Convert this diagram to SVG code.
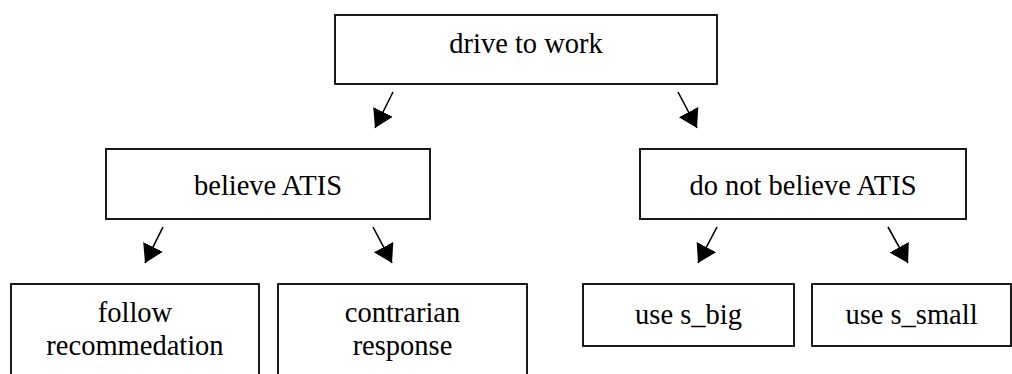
<svg xmlns="http://www.w3.org/2000/svg" width="1012" height="374" viewBox="0 0 1012 374">
<style>
.box{fill:#fff;stroke:#000;stroke-width:1.8}
.t{font-family:"Liberation Serif",Tinos,"Times New Roman",serif;font-size:28.5px;fill:#000;text-anchor:middle}
.c{stroke:#000;stroke-width:1.6;fill:none;marker-end:url(#ah)}
</style>
<defs>
<marker id="ah" markerUnits="userSpaceOnUse" markerWidth="24" markerHeight="24" refX="18" refY="11" orient="auto" viewBox="0 0 24 24">
<path d="M0,0 L18,11 L0,22 Z" fill="#000"/>
</marker>
</defs>
<rect width="1012" height="374" fill="#fff"/>
<g id="n-drive">
<rect class="box" x="335" y="15" width="382" height="69"/>
<text class="t" x="526" y="53">drive to work</text>
</g>
<g id="n-believe">
<rect class="box" x="106" y="149" width="324" height="70"/>
<text class="t" x="268" y="195">believe ATIS</text>
</g>
<g id="n-notbelieve">
<rect class="box" x="640" y="149" width="326" height="70"/>
<text class="t" x="803" y="195">do not believe ATIS</text>
</g>
<g id="n-follow">
<rect class="box" x="11" y="284" width="248" height="100"/>
<text class="t" x="135" y="322">follow</text>
<text class="t" x="135" y="355">recommedation</text>
</g>
<g id="n-contrarian">
<rect class="box" x="278" y="284" width="249" height="100"/>
<text class="t" x="402.5" y="322">contrarian</text>
<text class="t" x="402.5" y="355">response</text>
</g>
<g id="n-sbig">
<rect class="box" x="583" y="284" width="211" height="62"/>
<text class="t" x="688.5" y="324">use s_big</text>
</g>
<g id="n-ssmall">
<rect class="box" x="812" y="284" width="199" height="62"/>
<text class="t" x="911.5" y="324">use s_small</text>
</g>
<g id="connectors">
<line class="c" x1="393" y1="92" x2="375" y2="128"/>
<line class="c" x1="678" y1="92" x2="697" y2="128"/>
<line class="c" x1="163" y1="227" x2="145" y2="263"/>
<line class="c" x1="373" y1="227" x2="392" y2="263"/>
<line class="c" x1="717" y1="227" x2="698" y2="263"/>
<line class="c" x1="888" y1="227" x2="908" y2="263"/>
</g>
</svg>
